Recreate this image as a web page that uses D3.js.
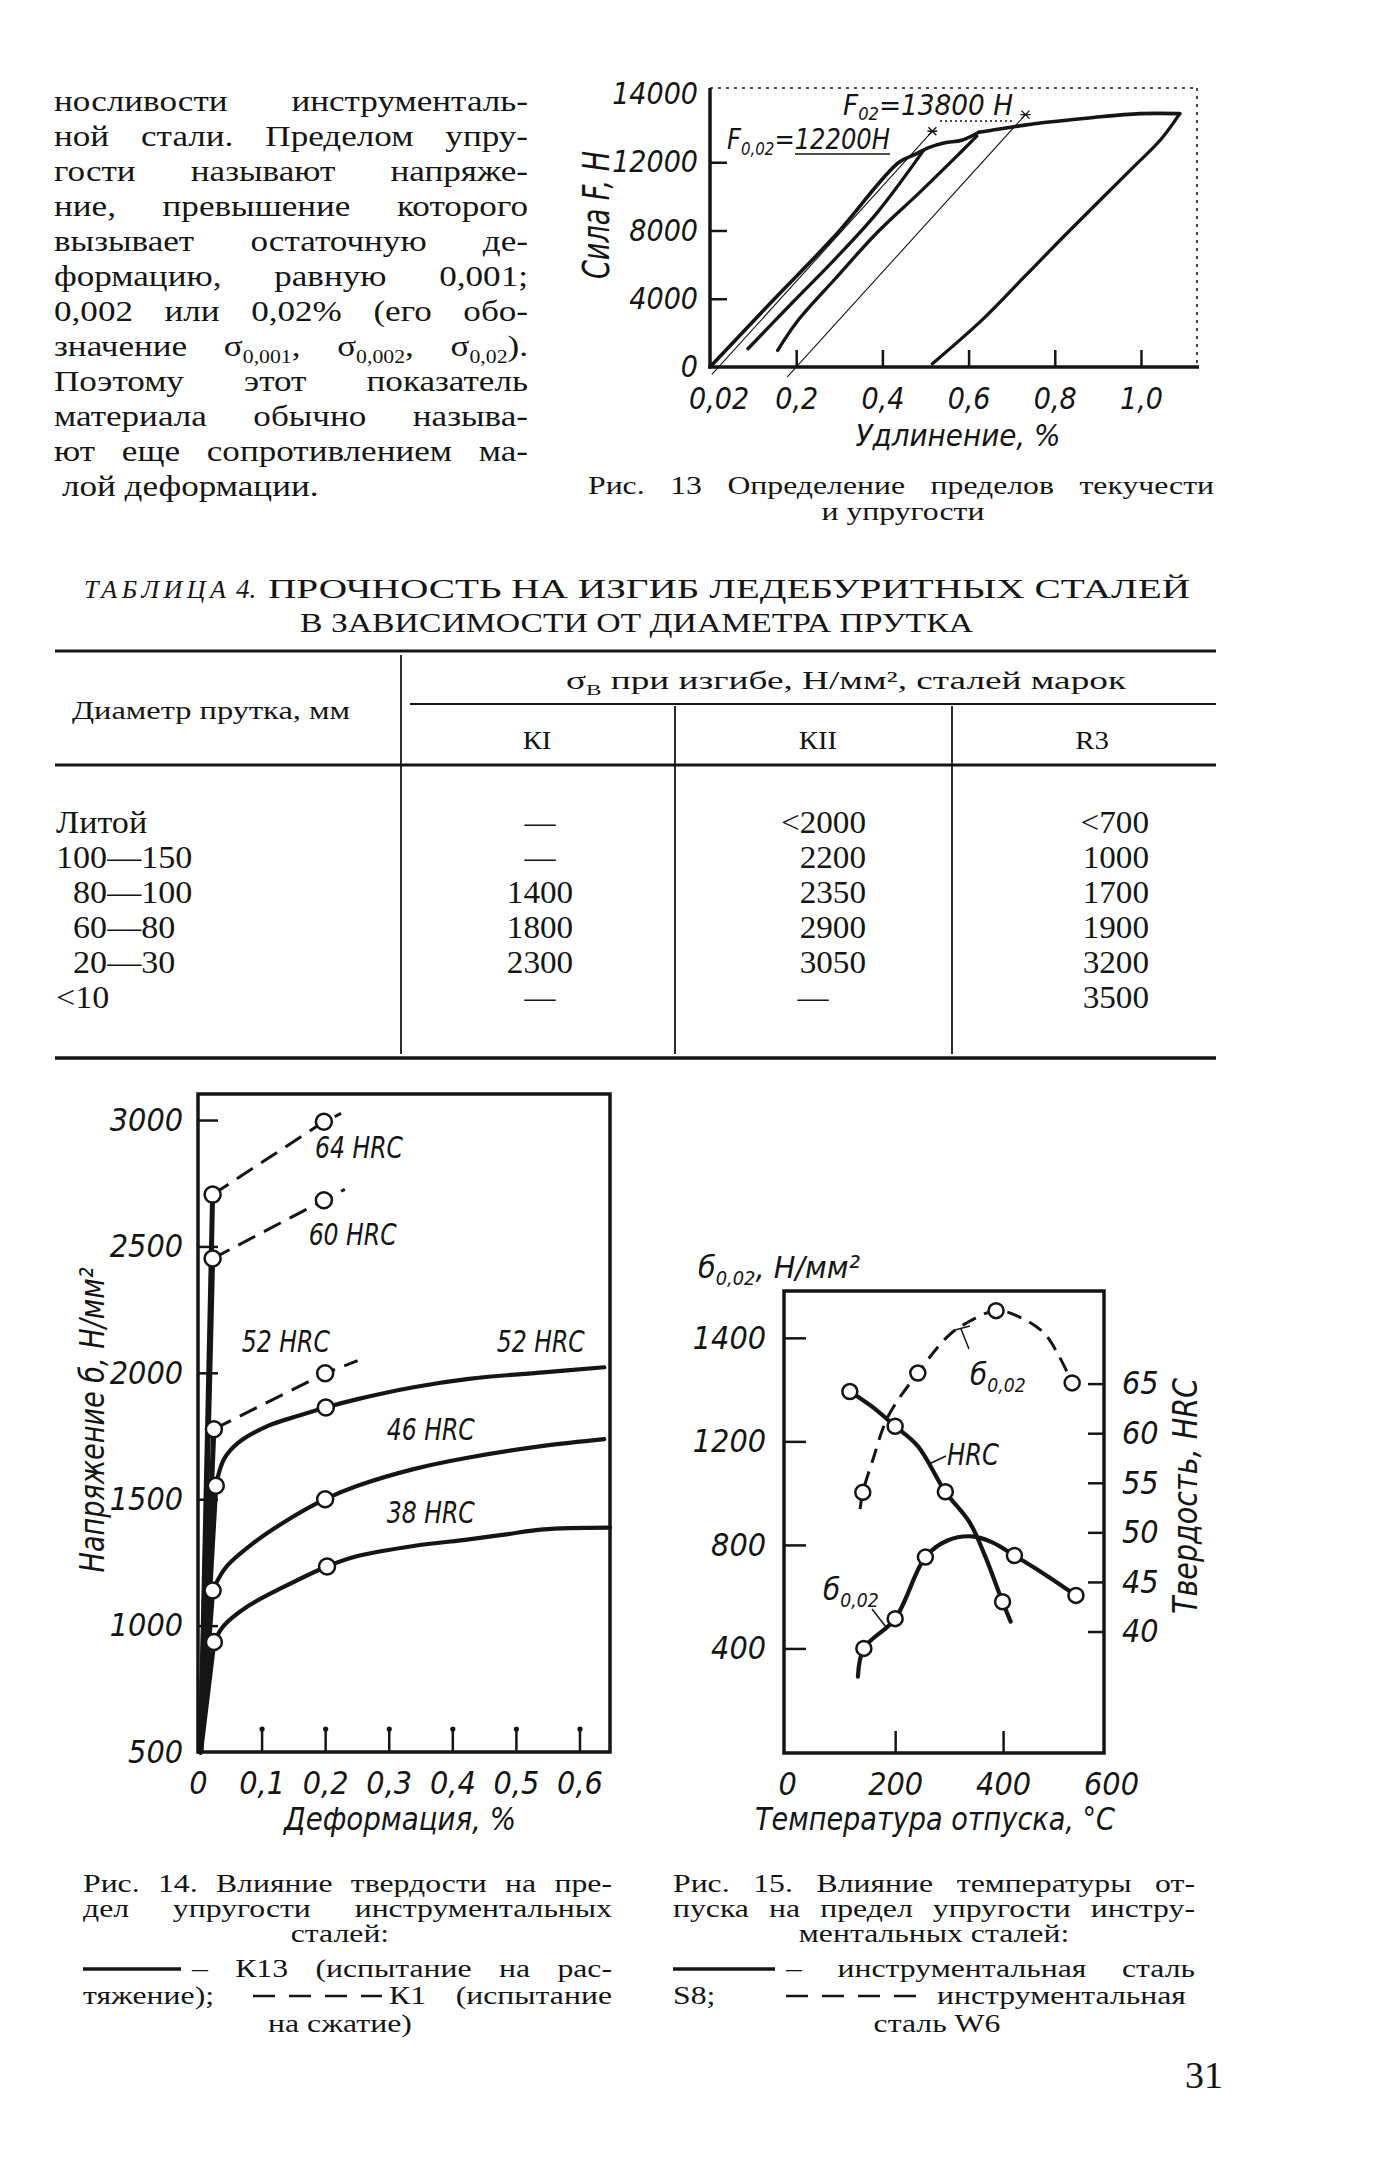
<!DOCTYPE html>
<html><head><meta charset="utf-8">
<script src="https://cdn.jsdelivr.net/npm/d3@7"></script>
<style>
html,body{margin:0;padding:0;background:#fff;}
svg{display:block;background:#fff;}
text{white-space:pre;}
</style></head>
<body><svg id="page" width="1373" height="2172"></svg>
<script>
// ================= DATA =================
const paraLines = [
  "носливости инструменталь-",
  "ной стали. Пределом упру-",
  "гости называют напряже-",
  "ние, превышение которого",
  "вызывает остаточную де-",
  "формацию, равную 0,001;",
  "0,002 или 0,02% (его обо-",
  "значение σ_{0,001}, σ_{0,002}, σ_{0,02}).",
  "Поэтому этот показатель",
  "материала обычно называ-",
  "ют еще сопротивлением ма-",
  "лой деформации."
];

// Fig. 13
const f13YTicks = [0, 4000, 8000, 12000, 16000];
const f13YTickLabels = ["0", "4000", "8000", "12000", "14000"];
const f13XTicks = [0.02, 0.2, 0.4, 0.6, 0.8, 1.0];
const f13XTickLabels = ["0,02", "0,2", "0,4", "0,6", "0,8", "1,0"];
const f13LoadX = [0, 0.142, 0.290, 0.437, 0.476, 0.506, 0.545, 0.584, 0.624];
const f13LoadF = [0, 3795, 7687, 11968, 12454, 12844, 13136, 13290, 13758];
const f13UnloadAX = [0.088, 0.192, 0.290, 0.388, 0.496];
const f13UnloadAF = [1070, 3795, 6325, 9049, 12707];
const f13UnloadBX = [0.157, 0.201, 0.290, 0.388, 0.486, 0.565, 0.619];
const f13UnloadBF = [973, 2627, 5157, 7881, 10217, 12163, 13525];
const f13PlateauX = [0.624, 0.663, 0.702, 0.781, 0.879, 0.997, 1.090];
const f13PlateauF = [13758, 13914, 14070, 14342, 14595, 14848, 14848];
const f13FinalX = [1.090, 1.046, 0.977, 0.830, 0.732, 0.634, 0.516];
const f13FinalF = [14848, 13330, 11579, 7881, 5352, 2822, 195];
const f13Off002X = [0.005, 0.516];
const f13Off002F = [-420, 13817];
const f13Off02X = [0.18, 0.732];
const f13Off02F = [-560, 14790];
const f13Notes = ["F_{02}=13800 Н", "F_{0,02}=12200Н"];
const fig13Caption = ["Рис. 13 Определение пределов текучести", "и упругости"];
const f13Titles = ["Сила F, Н", "Удлинение, %"];

// Table 4
const tableTitle = ["ТАБЛИЦА", "4.", "ПРОЧНОСТЬ НА ИЗГИБ ЛЕДЕБУРИТНЫХ СТАЛЕЙ", "В ЗАВИСИМОСТИ ОТ ДИАМЕТРА ПРУТКА"];
const tableHead = ["Диаметр прутка, мм", "σ_{В} при изгибе, Н/мм², сталей марок"];
const steelGrades = ["КI", "КII", "R3"];
const rowLabels = ["Литой", "100—150", "\u200780—100", "\u200760—80", "\u200720—30", "<10"];
const valuesKI = [null, null, "1400", "1800", "2300", null];
const valuesKII = ["<2000", "2200", "2350", "2900", "3050", null];
const valuesR3 = ["<700", "1000", "1700", "1900", "3200", "3500"];

// Fig. 14
const f14YTicks = [500, 1000, 1500, 2000, 2500, 3000];
const f14XTicks = [0, 0.1, 0.2, 0.3, 0.4, 0.5, 0.6];
const f14XTickLabels = ["0", "0,1", "0,2", "0,3", "0,4", "0,5", "0,6"];
const hrc64X = [0.023, 0.198, 0.225];
const hrc64Y = [2705, 2993, 3026];
const hrc60X = [0.023, 0.198, 0.231];
const hrc60Y = [2452, 2683, 2726];
const hrc52dX = [0.025, 0.200, 0.251];
const hrc52dY = [1777, 1998, 2048];
const hrc52X = [0.028, 0.041, 0.064, 0.111, 0.158, 0.201, 0.251, 0.339, 0.426, 0.543, 0.639];
const hrc52Y = [1553, 1659, 1725, 1791, 1830, 1863, 1896, 1943, 1976, 2002, 2022];
const hrc46X = [0.023, 0.044, 0.088, 0.134, 0.200, 0.251, 0.339, 0.426, 0.543, 0.639];
const hrc46Y = [1139, 1231, 1328, 1407, 1500, 1553, 1619, 1665, 1711, 1738];
const hrc38X = [0.025, 0.041, 0.076, 0.134, 0.203, 0.251, 0.339, 0.426, 0.485, 0.543, 0.648];
const hrc38Y = [935, 1001, 1073, 1152, 1234, 1275, 1315, 1341, 1361, 1381, 1388];
const f14Labels = ["64 HRC", "60 HRC", "52 HRC", "52 HRC", "46 HRC", "38 HRC"];
const f14Titles = ["Напряжение б, Н/мм²", "Деформация, %"];
const fig14Caption = ["Рис. 14. Влияние твердости на пре-", "дел упругости инструментальных", "сталей:",
  "– К13 (испытание на рас-", "тяжение);", "К1 (испытание", "на сжатие)"];

// Fig. 15
const f15LeftTicks = [400, 800, 1200, 1600];
const f15LeftTickLabels = ["400", "800", "1200", "1400"];
const f15RightTicks = [40, 45, 50, 55, 60, 65];
const f15XTicks = [0, 200, 400, 600];
const s8SigmaT = [131, 142, 200, 256, 297, 342, 380, 421, 476, 535];
const s8SigmaV = [291, 400, 515, 753, 817, 833, 810, 759, 688, 605];
const w6SigmaT = [135, 140, 159, 187, 242, 297, 331, 387, 435, 476, 504, 528];
const w6SigmaV = [938, 1003, 1131, 1297, 1464, 1605, 1656, 1705, 1676, 1618, 1528, 1426];
const s8HrcT = [116, 159, 200, 242, 293, 338, 366, 399, 414];
const s8HrcV = [64.2, 62.6, 60.7, 58.7, 54.1, 51.0, 47.7, 43.0, 41.0];
const f15Labels = ["б_{0,02}", "HRC", "б_{0,02}"];
const f15Titles = ["б_{0,02}, Н/мм²", "Твердость, HRC", "Температура отпуска, °С"];
const fig15Caption = ["Рис. 15. Влияние температуры от-", "пуска на предел упругости инстру-", "ментальных сталей:",
  "– инструментальная сталь", "S8;", "инструментальная", "сталь W6"];
const pageNumber = "31";

// ================= HELPERS =================
const INK = "#151515";
const SERIF = '"Liberation Serif","Times New Roman",serif';
const DRAFT = '"Liberation Sans Narrow","DejaVu Sans Condensed","Roboto Condensed","Liberation Sans",sans-serif';
const svg = d3.select("#page");
svg.append("rect").attr("width", 1373).attr("height", 2172).attr("fill", "#fff");

function rich(t, s, size, subShift) {
  const parts = s.split(/(_\{[^}]*\})/).filter(p => p.length);
  let shift = 0;
  parts.forEach(p => {
    if (p.startsWith("_{")) {
      const d = size * (subShift == null ? 0.24 : subShift);
      t.append("tspan").attr("dy", d - shift).attr("font-size", size * 0.62).text(p.slice(2, -1));
      shift = d;
    } else {
      t.append("tspan").attr("dy", -shift).text(p);
      shift = 0;
    }
  });
}
function txt(g, s, x, y, o = {}) {
  const size = o.size || 28;
  const t = g.append("text").attr("x", x).attr("y", y)
    .attr("font-family", o.family || SERIF).attr("font-size", size).attr("fill", INK);
  if (o.italic) t.attr("font-style", "italic");
  if (o.anchor) t.attr("text-anchor", o.anchor);
  if (o.rotate) t.attr("transform", `rotate(${o.rotate},${x},${y})`);
  rich(t, s, size, o.sub);
  let w = null;
  if (o.len) { w = o.len; t.attr("textLength", o.len).attr("lengthAdjust", o.adjust || "spacingAndGlyphs"); }
  else if (o.sx) {
    w = t.node().getComputedTextLength() * o.sx;
    t.attr("textLength", w).attr("lengthAdjust", "spacingAndGlyphs");
  }
  t.property("__w", w);
  return t;
}
function justify(g, s, x0, x1, y, o = {}) {
  const words = s.split(" ");
  const nodes = words.map(w => txt(g, w, 0, y, o));
  const widths = nodes.map(n => n.property("__w") || n.node().getComputedTextLength());
  const gap = words.length > 1 ? (x1 - x0 - d3.sum(widths)) / (words.length - 1) : 0;
  let x = x0;
  nodes.forEach((n, i) => { n.attr("x", x); x += widths[i] + gap; });
}
function styleAxis(g, size, hide = []) {
  g.attr("font-family", null).attr("font-size", null).attr("fill", null);
  g.select(".domain").remove();
  g.selectAll(".tick").filter(d => hide.includes(d)).select("line").remove();
  g.selectAll(".tick line").attr("stroke", INK).attr("stroke-width", 2.5);
  g.selectAll(".tick text").attr("fill", INK).attr("font-family", DRAFT)
    .attr("font-style", "italic").attr("font-size", size);
}
function path(g, xs, ys, sx, sy, o = {}) {
  const pts = xs.map((x, i) => [x, ys[i]]);
  const line = d3.line().x(d => sx(d[0])).y(d => sy(d[1]))
    .curve(o.linear ? d3.curveLinear : d3.curveCatmullRom.alpha(0.5));
  const p = g.append("path").datum(pts).attr("d", line).attr("fill", "none")
    .attr("stroke", INK).attr("stroke-width", o.w || 3.5)
    .attr("stroke-linecap", "round").attr("stroke-linejoin", "round");
  if (o.dash) p.attr("stroke-dasharray", o.dash).attr("stroke-linecap", "butt");
  return p;
}
function rings(g, xs, ys, idx, sx, sy, r) {
  g.selectAll(null).data(idx).enter().append("circle")
    .attr("cx", i => sx(xs[i])).attr("cy", i => sy(ys[i])).attr("r", r)
    .attr("fill", "#fff").attr("stroke", INK).attr("stroke-width", 2.5);
}

// ================= PARAGRAPH =================
const gp = svg.append("g");
const paraO = { size: 30, sx: 1.17 };
paraLines.forEach((l, i) => {
  const y = 111 + i * 35;
  if (i === paraLines.length - 1) txt(gp, l, 62, y, paraO);
  else justify(gp, l, 54, 528, y, paraO);
});

// ================= FIG 13 =================
const g13 = svg.append("g");
const x13 = d3.scaleLinear().domain([0, 1.13]).range([710, 1197]);
const y13 = d3.scaleLinear().domain([0, 16350]).range([367, 88]);
const ay13 = g13.append("g").attr("transform", "translate(710,0)")
  .call(d3.axisLeft(y13).tickValues(f13YTicks).tickFormat((d, i) => f13YTickLabels[i]).tickSize(-17).tickPadding(12));
styleAxis(ay13, 30, [0, 16000]);
const ax13 = g13.append("g").attr("transform", "translate(0,367)")
  .call(d3.axisBottom(x13).tickValues(f13XTicks).tickFormat((d, i) => f13XTickLabels[i]).tickSize(-17).tickPadding(21));
styleAxis(ax13, 30, [0.02]);
// frame
g13.append("line").attr("x1", 710).attr("x2", 710).attr("y1", 88).attr("y2", 367).attr("stroke", INK).attr("stroke-width", 3.5);
g13.append("line").attr("x1", 708).attr("x2", 1199).attr("y1", 367).attr("y2", 367).attr("stroke", INK).attr("stroke-width", 3.5);
g13.append("line").attr("x1", 710).attr("x2", 1197).attr("y1", 88).attr("y2", 88).attr("stroke", INK).attr("stroke-width", 1.6).attr("stroke-dasharray", "3,5");
g13.append("line").attr("x1", 1197).attr("x2", 1197).attr("y1", 88).attr("y2", 367).attr("stroke", INK).attr("stroke-width", 1.6).attr("stroke-dasharray", "3,5");
// offset thin lines
path(g13, f13Off002X, f13Off002F, x13, y13, { w: 1.1, linear: true });
path(g13, f13Off02X, f13Off02F, x13, y13, { w: 1.1, linear: true });
// curves
path(g13, f13LoadX, f13LoadF, x13, y13, { w: 3.6 });
path(g13, f13UnloadAX, f13UnloadAF, x13, y13, { w: 3.3 });
path(g13, f13UnloadBX, f13UnloadBF, x13, y13, { w: 3.3 });
path(g13, f13PlateauX, f13PlateauF, x13, y13, { w: 3.6 });
path(g13, f13FinalX, f13FinalF, x13, y13, { w: 3.3 });
// star marks at line ends
[[f13Off002X[1], f13Off002F[1]], [f13Off02X[1], f13Off02F[1]]].forEach(p => {
  const cx = x13(p[0]), cy = y13(p[1]);
  g13.append("path").attr("d", `M${cx - 4},${cy - 4}L${cx + 4},${cy + 4}M${cx - 4},${cy + 4}L${cx + 4},${cy - 4}M${cx - 5},${cy}L${cx + 5},${cy}`)
    .attr("stroke", INK).attr("stroke-width", 1.4);
});
// notes
txt(g13, f13Notes[0], 843, 115, { family: DRAFT, italic: true, size: 28, sub: 0.18, len: 170 });
g13.append("line").attr("x1", 940).attr("x2", 1014).attr("y1", 121).attr("y2", 121).attr("stroke", INK).attr("stroke-width", 1.4).attr("stroke-dasharray", "2,3");
txt(g13, f13Notes[1], 727, 149, { family: DRAFT, italic: true, size: 28, sub: 0.2, len: 163 });
g13.append("line").attr("x1", 795).attr("x2", 890).attr("y1", 154).attr("y2", 154).attr("stroke", INK).attr("stroke-width", 1.6);
// axis titles
txt(g13, f13Titles[0], 609, 215, { family: DRAFT, italic: true, size: 38, anchor: "middle", rotate: -90, len: 128 });
txt(g13, f13Titles[1], 958, 446, { family: DRAFT, italic: true, size: 31, anchor: "middle", len: 205 });
// caption
const capO = { size: 26, sx: 1.22 };
justify(g13, fig13Caption[0], 588, 1214, 494, capO);
txt(g13, fig13Caption[1], 903, 520, { size: 26, sx: 1.22, anchor: "middle" });

// ================= TABLE 4 =================
const gt = svg.append("g");
txt(gt, tableTitle[0], 84, 598, { size: 26, italic: true, len: 142, adjust: "spacing" });
txt(gt, tableTitle[1], 236, 598, { size: 27, italic: true });
txt(gt, tableTitle[2], 268, 598, { size: 28, len: 922 });
txt(gt, tableTitle[3], 300, 632, { size: 28, len: 673 });
const rule = (x1, x2, y, w) => gt.append("line").attr("x1", x1).attr("x2", x2).attr("y1", y).attr("y2", y).attr("stroke", INK).attr("stroke-width", w);
const vrule = (x, y1, y2) => gt.append("line").attr("x1", x).attr("x2", x).attr("y1", y1).attr("y2", y2).attr("stroke", INK).attr("stroke-width", 1.8);
rule(55, 1216, 651, 3.2);
rule(410, 1216, 704, 2.2);
rule(55, 1216, 765, 3.2);
rule(55, 1216, 1058, 3.4);
vrule(401, 655, 1054);
vrule(675, 706, 1054);
vrule(952, 706, 1054);
txt(gt, tableHead[0], 72, 719, { size: 25, len: 278 });
txt(gt, tableHead[1], 566, 689, { size: 25, len: 560 });
const gradeX = [537, 818, 1092];
steelGrades.forEach((s, i) => txt(gt, s, gradeX[i], 749, { size: 25, anchor: "middle", sx: 1.15 }));
const rowY = d3.scaleLinear().domain([0, 5]).range([833, 1008]);
const bodyO = { size: 31, sx: 1.1 };
rowLabels.forEach((l, i) => txt(gt, l, 56, rowY(i), bodyO));
const cols = [
  { vals: valuesKI, x: 540, anchor: "middle", dashX: 540 },
  { vals: valuesKII, x: 866, anchor: "end", dashX: 813 },
  { vals: valuesR3, x: 1149, anchor: "end", dashX: 1110 }
];
cols.forEach(c => c.vals.forEach((v, i) => {
  if (v === null) txt(gt, "—", c.dashX, rowY(i), { size: 31, anchor: "middle" });
  else txt(gt, v, c.x, rowY(i), { size: 31, sx: 1.07, anchor: c.anchor });
}));

// ================= FIG 14 =================
const g14 = svg.append("g");
const x14 = d3.scaleLinear().domain([0, 0.648]).range([198, 610]);
const y14 = d3.scaleLinear().domain([500, 3103]).range([1752, 1094]);
const ay14 = g14.append("g").attr("transform", "translate(198,0)")
  .call(d3.axisLeft(y14).tickValues(f14YTicks).tickFormat(d3.format("d")).tickSize(-20).tickPadding(15));
styleAxis(ay14, 32, [500]);
const ax14 = g14.append("g").attr("transform", "translate(0,1752)")
  .call(d3.axisBottom(x14).tickValues(f14XTicks).tickFormat((d, i) => f14XTickLabels[i]).tickSize(-23).tickPadding(19));
styleAxis(ax14, 32, [0]);
ax14.selectAll(".tick").filter(d => d > 0).append("circle").attr("cy", -23).attr("r", 2.6).attr("fill", INK);
g14.append("rect").attr("x", 198).attr("y", 1094).attr("width", 412).attr("height", 658)
  .attr("fill", "none").attr("stroke", INK).attr("stroke-width", 3.5);
const f14Series = [
  { x: hrc64X, y: hrc64Y, dash: "19,10", marks: [0, 1] },
  { x: hrc60X, y: hrc60Y, dash: "19,10", marks: [0, 1] },
  { x: hrc52dX, y: hrc52dY, dash: "19,10", marks: [0, 1] },
  { x: hrc52X, y: hrc52Y, marks: [0, 5] },
  { x: hrc46X, y: hrc46Y, marks: [0, 4] },
  { x: hrc38X, y: hrc38Y, marks: [0, 4] }
];
// elastic portions rising from the lower-left corner of the plot
f14Series.forEach(s => path(g14, [0.004, s.x[0]], [500, s.y[0]], x14, y14, { w: 5, linear: true }));
f14Series.forEach(s => {
  if (s.dash) path(g14, s.x, s.y, x14, y14, { w: 3, dash: s.dash, linear: true });
  else path(g14, s.x, s.y, x14, y14, { w: 4.2 });
});
f14Series.forEach(s => rings(g14, s.x, s.y, s.marks, x14, y14, 8));
const f14LabelAt = [[0.184, 2850], [0.174, 2506], [0.069, 2082], [0.470, 2082], [0.297, 1734], [0.297, 1406]];
f14Labels.forEach((l, i) => txt(g14, l, x14(f14LabelAt[i][0]), y14(f14LabelAt[i][1]), { family: DRAFT, italic: true, size: 31, len: 88 }));
txt(g14, f14Titles[0], 104, 1420, { family: DRAFT, italic: true, size: 34, anchor: "middle", rotate: -90, len: 305 });
txt(g14, f14Titles[1], 400, 1830, { family: DRAFT, italic: true, size: 32, anchor: "middle", len: 232 });

// ================= FIG 15 =================
const g15 = svg.append("g");
const x15 = d3.scaleLinear().domain([-6, 587]).range([784, 1104]);
const yL15 = d3.scaleLinear().domain([-4, 1781]).range([1753, 1291]);
const yR15 = d3.scaleLinear().domain([27.75, 74.34]).range([1753, 1291]);
const ayL = g15.append("g").attr("transform", "translate(784,0)")
  .call(d3.axisLeft(yL15).tickValues(f15LeftTicks).tickFormat((d, i) => f15LeftTickLabels[i]).tickSize(-22).tickPadding(18));
styleAxis(ayL, 32);
const ayR = g15.append("g").attr("transform", "translate(1104,0)")
  .call(d3.axisRight(yR15).tickValues(f15RightTicks).tickFormat(d3.format("d")).tickSize(-16).tickPadding(18));
styleAxis(ayR, 32);
const ax15 = g15.append("g").attr("transform", "translate(0,1753)")
  .call(d3.axisBottom(x15).tickValues(f15XTicks).tickFormat(d3.format("d")).tickSize(-22).tickPadding(19));
styleAxis(ax15, 32, [0, 600]);
g15.append("rect").attr("x", 784).attr("y", 1291).attr("width", 320).attr("height", 462)
  .attr("fill", "none").attr("stroke", INK).attr("stroke-width", 3.5);
path(g15, w6SigmaT, w6SigmaV, x15, yL15, { w: 3, dash: "15,9" });
path(g15, s8SigmaT, s8SigmaV, x15, yL15, { w: 4.2 });
path(g15, s8HrcT, s8HrcV, x15, yR15, { w: 4.2 });
rings(g15, w6SigmaT, w6SigmaV, [1, 4, 7, 11], x15, yL15, 7.5);
rings(g15, s8SigmaT, s8SigmaV, [1, 2, 3, 7, 9], x15, yL15, 7.5);
rings(g15, s8HrcT, s8HrcV, [0, 2, 4, 7], x15, yR15, 7.5);
// curve labels with leaders
txt(g15, f15Labels[0], 970, 1385, { family: DRAFT, italic: true, size: 31 });
txt(g15, f15Labels[1], 947, 1465, { family: DRAFT, italic: true, size: 31, len: 52 });
txt(g15, f15Labels[2], 823, 1600, { family: DRAFT, italic: true, size: 31 });
const lead = (a, b, c, d) => g15.append("line").attr("x1", a).attr("y1", b).attr("x2", c).attr("y2", d).attr("stroke", INK).attr("stroke-width", 1.5);
lead(969, 1349, 961, 1329); lead(955, 1330, 970, 1326);
lead(946, 1456, 929, 1464);
lead(872, 1609, 886, 1627);
// titles
txt(g15, f15Titles[0], 698, 1278, { family: DRAFT, italic: true, size: 31, len: 162 });
txt(g15, f15Titles[1], 1197, 1496, { family: DRAFT, italic: true, size: 34, anchor: "middle", rotate: -90, len: 236 });
txt(g15, f15Titles[2], 935, 1830, { family: DRAFT, italic: true, size: 32, anchor: "middle", len: 360 });

// ================= CAPTIONS 14/15 =================
const gc = svg.append("g");
const capY = [1892, 1917, 1942, 1977, 2004, 2032];
const capM = { size: 26, sx: 1.22, anchor: "middle" };
justify(gc, fig14Caption[0], 83, 612, capY[0], capO);
justify(gc, fig14Caption[1], 83, 612, capY[1], capO);
txt(gc, fig14Caption[2], 340, capY[2], capM);
gc.append("line").attr("x1", 83).attr("x2", 181).attr("y1", capY[3] - 8).attr("y2", capY[3] - 8).attr("stroke", INK).attr("stroke-width", 3.5);
justify(gc, fig14Caption[3], 192, 612, capY[3], capO);
txt(gc, fig14Caption[4], 83, capY[4], capO);
gc.append("line").attr("x1", 253).attr("x2", 382).attr("y1", capY[4] - 8).attr("y2", capY[4] - 8).attr("stroke", INK).attr("stroke-width", 2.6).attr("stroke-dasharray", "22,14");
justify(gc, fig14Caption[5], 389, 612, capY[4], capO);
txt(gc, fig14Caption[6], 340, capY[5], capM);

justify(gc, fig15Caption[0], 673, 1195, capY[0], capO);
justify(gc, fig15Caption[1], 673, 1195, capY[1], capO);
txt(gc, fig15Caption[2], 934, capY[2], capM);
gc.append("line").attr("x1", 673).attr("x2", 775).attr("y1", capY[3] - 8).attr("y2", capY[3] - 8).attr("stroke", INK).attr("stroke-width", 3.5);
justify(gc, fig15Caption[3], 786, 1195, capY[3], capO);
txt(gc, fig15Caption[4], 673, capY[4], capO);
gc.append("line").attr("x1", 786).attr("x2", 918).attr("y1", capY[4] - 8).attr("y2", capY[4] - 8).attr("stroke", INK).attr("stroke-width", 2.6).attr("stroke-dasharray", "22,14");
txt(gc, fig15Caption[5], 937, capY[4], capO);
txt(gc, fig15Caption[6], 937, capY[5], capM);

txt(svg, pageNumber, 1185, 2088, { size: 38 });
</script>
</body></html>
